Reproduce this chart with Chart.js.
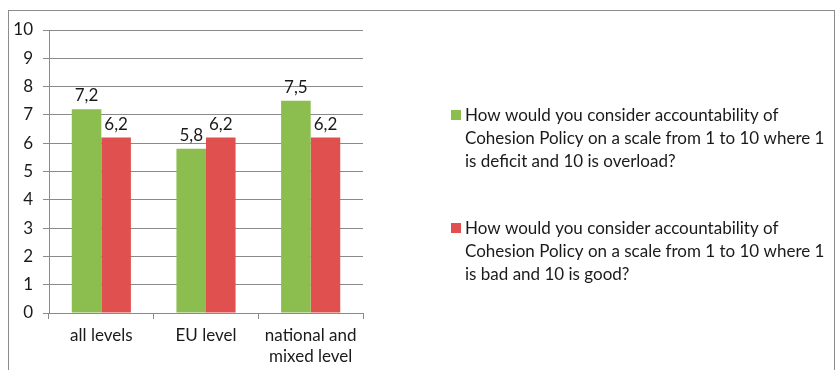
<!DOCTYPE html>
<html>
<head>
<meta charset="utf-8">
<script src="https://cdn.jsdelivr.net/npm/chart.js@4.4.0/dist/chart.umd.min.js"></script>
<style>
  html, body { margin: 0; padding: 0; background: #fff; }
  #wrap { width: 837px; height: 370px; }
</style>
</head>
<body>
<div id="wrap"><canvas id="chart" width="837" height="370"></canvas></div>
<script>
// data
const categories = ["all levels", "EU level", ["national and", "mixed level"]];
const deficitScores = [7.2, 5.8, 7.5];
const qualityScores = [6.2, 6.2, 6.2];
const seriesNames = [
  ["How would you consider accountability of", "Cohesion Policy on a scale from 1 to 10 where 1", "is deficit and 10 is overload?"],
  ["How would you consider accountability of", "Cohesion Policy on a scale from 1 to 10 where 1", "is bad and 10 is good?"]
];
const yTicks = [0, 1, 2, 3, 4, 5, 6, 7, 8, 9, 10];

const FONT = "Lato";
const TEXT = "#1a1a1a";
const GREEN = "#8CBE4F";
const RED = "#E0504E";
const GRID = "#8a8a8a";

// outer frame like the office chart border
const framePlugin = {
  id: "frame",
  beforeDraw(chart) {
    const ctx = chart.ctx;
    ctx.save();
    ctx.strokeStyle = "#8c8c8c";
    ctx.lineWidth = 1;
    ctx.strokeRect(8.5, 10.5, 826, 400);
    ctx.restore();
  }
};

// value labels above the bars, with comma decimals
const valueLabels = {
  id: "valueLabels",
  afterDatasetsDraw(chart) {
    const ctx = chart.ctx;
    ctx.save();
    ctx.font = `17px ${FONT}`;
    ctx.fillStyle = TEXT;
    ctx.textAlign = "center";
    ctx.textBaseline = "bottom";
    chart.data.datasets.forEach((ds, i) => {
      chart.getDatasetMeta(i).data.forEach((bar, j) => {
        const txt = ds.data[j].toFixed(1).replace(".", ",");
        ctx.fillText(txt, bar.x, bar.y - 5);
      });
    });
    ctx.restore();
  }
};

// legend on the right, text wrapped over several lines
const sideLegend = {
  id: "sideLegend",
  afterDraw(chart) {
    const ctx = chart.ctx;
    const tops = [110, 223];
    ctx.save();
    ctx.font = `17px ${FONT}`;
    ctx.textBaseline = "middle";
    ctx.textAlign = "left";
    chart.data.datasets.forEach((ds, i) => {
      const y = tops[i];
      ctx.fillStyle = ds.backgroundColor;
      ctx.fillRect(451, y, 10, 10);
      ctx.fillStyle = TEXT;
      seriesNames[i].forEach((line, k) => {
        ctx.fillText(line, 465, y + 6 + k * 23);
      });
    });
    ctx.restore();
  }
};

new Chart(document.getElementById("chart"), {
  type: "bar",
  data: {
    labels: categories,
    datasets: [
      { label: seriesNames[0].join(" "), data: deficitScores, backgroundColor: GREEN,
        categoryPercentage: 0.565, barPercentage: 1 },
      { label: seriesNames[1].join(" "), data: qualityScores, backgroundColor: RED,
        categoryPercentage: 0.565, barPercentage: 1 }
    ]
  },
  options: {
    responsive: false,
    animation: false,
    layout: { padding: { left: 0, right: 474, top: 30, bottom: 0 } },
    plugins: {
      legend: { display: false },
      tooltip: { enabled: false }
    },
    scales: {
      x: {
        grid: { drawOnChartArea: false, drawTicks: true, tickLength: 6, color: GRID, offset: true },
        border: { color: GRID },
        ticks: { color: TEXT, font: { family: FONT, size: 17, lineHeight: 1.25 }, padding: 6, maxRotation: 0 },
        afterFit(s) { s.height = 57; }
      },
      y: {
        min: 0,
        max: 10,
        afterBuildTicks(s) { s.ticks = yTicks.map(v => ({ value: v })); },
        grid: { color: GRID, tickLength: 6 },
        border: { color: GRID },
        ticks: { color: TEXT, font: { family: FONT, size: 17 }, padding: 10 },
        afterFit(s) { s.width = 49; }
      }
    }
  },
  plugins: [framePlugin, valueLabels, sideLegend]
});
</script>
</body>
</html>
